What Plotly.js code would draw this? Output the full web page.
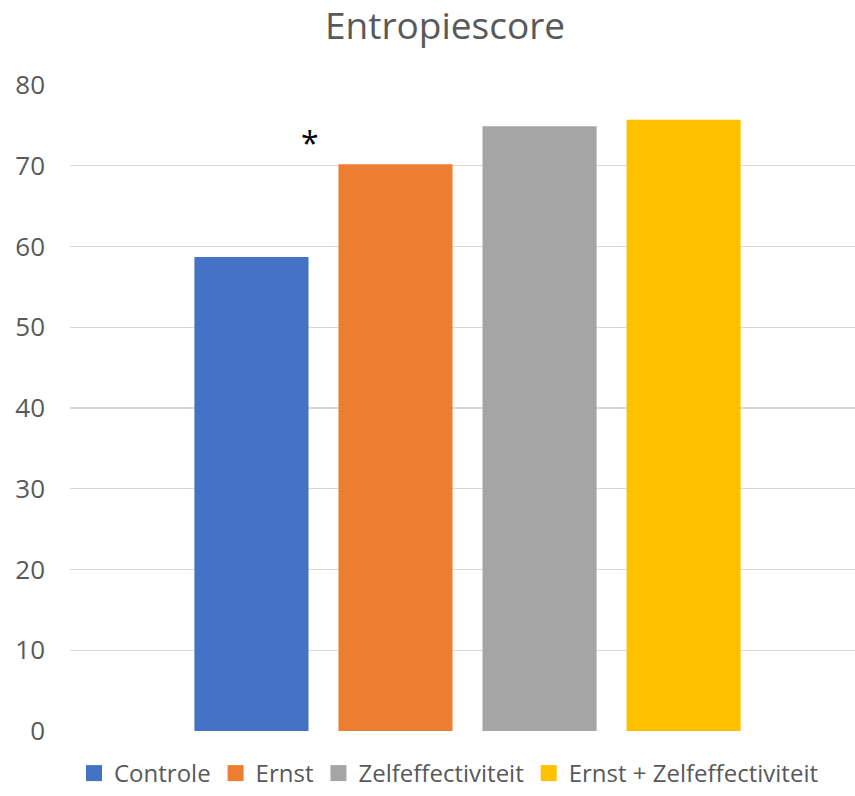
<!DOCTYPE html>
<html>
<head>
<meta charset="utf-8">
<script src="https://cdn.plot.ly/plotly-3.0.1.min.js"></script>
<style>html,body{margin:0;padding:0;background:#fff;}#chart{width:855px;height:796px;}</style>
</head>
<body>
<div id="chart"></div>
<script>
const chartTitle = 'Entropiescore';
const seriesNames = ['Controle', 'Ernst', 'Zelfeffectiviteit', 'Ernst + Zelfeffectiviteit'];
const seriesValues = [58.7, 70.2, 74.9, 75.7];
const seriesColors = ['#4472C4', '#ED7D31', '#A5A5A5', '#FFC000'];
const yTicks = [0, 10, 20, 30, 40, 50, 60, 70, 80];
const significanceMark = '*';
const significanceY = 72.9;

const FONT = 'Open Sans, Liberation Sans, sans-serif';
const bars = seriesNames.map((name, i) => ({
  type: 'bar',
  name: name,
  legendgroup: name,
  showlegend: false,
  x: [chartTitle],
  y: [seriesValues[i]],
  marker: {color: seriesColors[i], line: {width: 0}},
  hoverinfo: 'name+y'
}));
const legendKeys = seriesNames.map((name, i) => ({
  type: 'scatter',
  mode: 'markers',
  name: name,
  legendgroup: name,
  x: [chartTitle],
  y: [null],
  marker: {symbol: 'square', size: 16, color: seriesColors[i]},
  hoverinfo: 'skip'
}));

const layout = {
  width: 855,
  height: 796,
  margin: {l: 70, r: 0, t: 85, b: 65, pad: 0},
  paper_bgcolor: '#ffffff',
  plot_bgcolor: '#ffffff',
  font: {family: FONT, color: '#595959'},
  title: {
    text: chartTitle,
    font: {family: FONT, size: 37, color: '#595959'},
    x: 445 / 855,
    xanchor: 'center',
    xref: 'container',
    y: 1 - 26 / 796,
    yanchor: 'middle',
    yref: 'container'
  },
  barmode: 'group',
  bargap: 0.266,
  bargroupgap: 0.208,
  xaxis: {
    type: 'category',
    range: [-0.5064, 0.4936],
    showticklabels: false,
    showgrid: false,
    zeroline: false,
    showline: false,
    ticks: ''
  },
  yaxis: {
    range: [0, 80],
    tickvals: yTicks,
    ticktext: yTicks.map(String),
    tickfont: {family: FONT, size: 26, color: '#595959'},
    showgrid: true,
    gridcolor: '#d9d9d9',
    gridwidth: 1.3,
    zeroline: false,
    showline: false,
    ticks: '',
    ticklabelstandoff: 24
  },
  showlegend: true,
  legend: {
    orientation: 'h',
    x: 449 / 855,
    xref: 'container',
    xanchor: 'center',
    y: -5 / 796,
    yref: 'container',
    yanchor: 'bottom',
    font: {family: FONT, size: 24, color: '#595959'},
    itemwidth: 30,
    itemsizing: 'trace',
    traceorder: 'normal'
  },
  annotations: [{
    text: significanceMark,
    x: -0.2006,
    y: significanceY,
    xref: 'x',
    yref: 'y',
    showarrow: false,
    font: {family: FONT, size: 32, color: '#000000'},
    xanchor: 'center',
    yanchor: 'middle'
  }]
};

Plotly.newPlot('chart', bars.concat(legendKeys), layout, {displayModeBar: false, staticPlot: true});
</script>
</body>
</html>
